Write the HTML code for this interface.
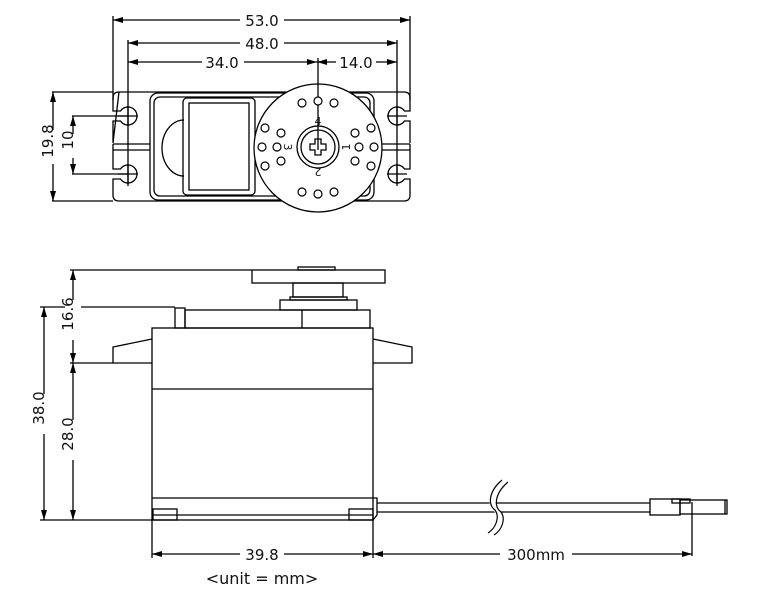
<!DOCTYPE html>
<html><head><style>
html,body{margin:0;padding:0;background:#fff}
svg{display:block}
text{font-family:"DejaVu Sans","Liberation Sans",sans-serif;font-size:15px;fill:#111}
</style></head><body>
<svg width="766" height="600" viewBox="0 0 766 600" xmlns="http://www.w3.org/2000/svg">
<defs>
<marker id="a" viewBox="0 0 10 6" refX="10" refY="3" markerWidth="10" markerHeight="6" orient="auto-start-reverse" markerUnits="userSpaceOnUse"><path d="M0,0 L10,3 L0,6 z" fill="#000"/></marker>
</defs>
<g fill="none" stroke="#000" stroke-width="1.3">
<line x1="113" y1="20" x2="410" y2="20" marker-start="url(#a)" marker-end="url(#a)"/>
<line x1="113" y1="16" x2="113" y2="100"/><line x1="410" y1="16" x2="410" y2="100"/>
<line x1="128" y1="43" x2="397" y2="43" marker-start="url(#a)" marker-end="url(#a)"/>
<line x1="128" y1="40" x2="128" y2="186"/><line x1="397" y1="40" x2="397" y2="186"/>
<line x1="128" y1="62" x2="317" y2="62" marker-start="url(#a)" marker-end="url(#a)"/>
<line x1="317" y1="62" x2="397" y2="62" marker-start="url(#a)" marker-end="url(#a)"/>
<line x1="52" y1="92" x2="113" y2="92"/><line x1="52" y1="201" x2="113" y2="201"/>
<line x1="53" y1="92" x2="53" y2="201" marker-start="url(#a)" marker-end="url(#a)"/>
<line x1="72" y1="116" x2="128" y2="116"/><line x1="72" y1="174" x2="128" y2="174"/>
<line x1="73" y1="116" x2="73" y2="174" marker-start="url(#a)" marker-end="url(#a)"/>
<path d="M119,92 H404 Q410,92 410,98 V111 H404.5 A9,9 0 1 0 404.5,121 H410 V143 M410,150 V169 H404.5 A9,9 0 1 0 404.5,179 H410 V195 Q410,201 404,201 H119 Q113,201 113,195 V179 H120.5 A9,9 0 1 0 120.5,169 H113 V150 M113,143 V121 H120.5 A9,9 0 1 0 120.5,111 H113 V98 Q113,92 119,92 Z"/>
<line x1="113" y1="144" x2="150" y2="144"/><line x1="113" y1="150" x2="150" y2="150"/>
<line x1="373" y1="144" x2="410" y2="144"/><line x1="373" y1="150" x2="410" y2="150"/>
<line x1="113" y1="144" x2="113" y2="150"/><line x1="410" y1="144" x2="410" y2="150"/>
<line x1="128" y1="106" x2="128" y2="126"/><line x1="118" y1="116" x2="138" y2="116"/>
<line x1="128" y1="164" x2="128" y2="184"/><line x1="118" y1="174" x2="138" y2="174"/>
<line x1="397" y1="106" x2="397" y2="126"/><line x1="387" y1="116" x2="407" y2="116"/>
<line x1="397" y1="164" x2="397" y2="184"/><line x1="387" y1="174" x2="407" y2="174"/>
<rect x="150" y="93" width="224" height="107" rx="8"/>
<rect x="154" y="97" width="216" height="99" rx="6"/>
<path d="M184,120 A22,28 0 0 0 184,176"/>
<rect x="183" y="98" width="72" height="97" rx="4"/>
<rect x="189" y="103" width="60" height="87"/>
<circle cx="318" cy="148" r="64" fill="#fff"/>
<circle cx="318" cy="147" r="21"/><circle cx="318" cy="147" r="17"/>
<path d="M315,139 h6 v5 h5 v6 h-5 v5 h-6 v-5 h-5 v-6 h5 z"/>
<line x1="318" y1="58" x2="318" y2="150"/>
</g>
<g fill="#fff" stroke="#000" stroke-width="1.2">
<circle cx="302" cy="103" r="4"/><circle cx="318" cy="101" r="4"/><circle cx="334" cy="103" r="4"/>
<circle cx="302" cy="192" r="4"/><circle cx="318" cy="194" r="4"/><circle cx="334" cy="192" r="4"/>
<circle cx="265" cy="128" r="4"/><circle cx="262" cy="147" r="4"/><circle cx="265" cy="166" r="4"/>
<circle cx="281" cy="133" r="4"/><circle cx="277" cy="147" r="4"/><circle cx="281" cy="161" r="4"/>
<circle cx="371" cy="128" r="4"/><circle cx="374" cy="147" r="4"/><circle cx="371" cy="166" r="4"/>
<circle cx="355" cy="133" r="4"/><circle cx="359" cy="147" r="4"/><circle cx="355" cy="161" r="4"/>
</g>
<g>
<text x="318" y="125" text-anchor="middle" style="font-size:11px">4</text>
<text x="288" y="151" text-anchor="middle" transform="rotate(90 288 147)" style="font-size:11px">3</text>
<text x="346" y="151" text-anchor="middle" transform="rotate(-90 346 147)" style="font-size:11px">1</text>
<text x="318" y="176" text-anchor="middle" transform="rotate(180 318 172)" style="font-size:11px">2</text>
</g>
<g>
<rect x="240" y="12" width="44" height="16" fill="#fff"/><text x="262" y="26" text-anchor="middle">53.0</text>
<rect x="240" y="35" width="44" height="16" fill="#fff"/><text x="262" y="49" text-anchor="middle">48.0</text>
<rect x="202" y="54" width="42" height="16" fill="#fff"/><text x="222" y="68" text-anchor="middle">34.0</text>
<rect x="336" y="54" width="40" height="16" fill="#fff"/><text x="356" y="68" text-anchor="middle">14.0</text>
<rect x="45" y="130" width="16" height="34" fill="#fff"/><text x="59" y="147" text-anchor="middle" transform="rotate(-90 53 147)">19.8</text>
<rect x="65" y="134" width="16" height="24" fill="#fff"/><text x="79" y="146" text-anchor="middle" transform="rotate(-90 73 146)">10</text>
</g>
<g fill="none" stroke="#000" stroke-width="1.3">
<rect x="252" y="270" width="133" height="13"/>
<rect x="298" y="267" width="37" height="3"/>
<rect x="293" y="283" width="50" height="14"/>
<rect x="290" y="297" width="57" height="3"/>
<rect x="280" y="300" width="77" height="10"/>
<rect x="185" y="310" width="185" height="18"/>
<rect x="175" y="308" width="10" height="20"/>
<line x1="302" y1="310" x2="302" y2="328"/>
<rect x="152" y="328" width="221" height="192"/>
<line x1="152" y1="389" x2="373" y2="389"/>
<line x1="152" y1="498" x2="373" y2="498"/>
<line x1="152" y1="515" x2="373" y2="515"/>
<rect x="153" y="509" width="24" height="11"/><rect x="349" y="509" width="24" height="11"/>
<path d="M373,498 h4 v17 l-4,5"/>
<path d="M152,339 L113,347 V363 H152"/>
<path d="M373,339 L412,347 V363 H373"/>
<line x1="40" y1="307" x2="175" y2="307"/>
<line x1="40" y1="520" x2="152" y2="520"/>
<line x1="44" y1="307" x2="44" y2="520" marker-start="url(#a)" marker-end="url(#a)"/>
<line x1="70" y1="270" x2="252" y2="270"/>
<line x1="70" y1="363" x2="113" y2="363"/>
<line x1="73" y1="270" x2="73" y2="363" marker-start="url(#a)" marker-end="url(#a)"/>
<line x1="73" y1="363" x2="73" y2="520" marker-start="url(#a)" marker-end="url(#a)"/>
<line x1="152" y1="520" x2="152" y2="558"/><line x1="373" y1="520" x2="373" y2="558"/>
<line x1="152" y1="554" x2="373" y2="554" marker-start="url(#a)" marker-end="url(#a)"/>
<line x1="373" y1="554" x2="692" y2="554" marker-start="url(#a)" marker-end="url(#a)"/>
<line x1="692" y1="502" x2="692" y2="556"/>
<line x1="377" y1="503" x2="650" y2="503"/><line x1="377" y1="512" x2="650" y2="512"/>
<rect x="650" y="499" width="30" height="16"/>
<rect x="680" y="500" width="47" height="14"/>
<rect x="672" y="499" width="18" height="4"/>
<line x1="725" y1="500" x2="725" y2="514"/>
</g>
<path d="M504,480 C490,492 490,505 497,510 C502,517 498,528 490,533" fill="none" stroke="#fff" stroke-width="6"/>
<path d="M502,480 C488,492 488,505 495,510 C500,517 496,528 488,533 M508,482 C494,494 494,507 501,512 C506,519 502,530 494,535" fill="none" stroke="#000" stroke-width="1.2"/>
<g>
<rect x="36" y="394" width="16" height="40" fill="#fff"/><text x="50" y="414" text-anchor="middle" transform="rotate(-90 44 414)">38.0</text>
<rect x="65" y="300" width="16" height="40" fill="#fff"/><text x="79" y="320" text-anchor="middle" transform="rotate(-90 73 320)">16.6</text>
<rect x="65" y="420" width="16" height="40" fill="#fff"/><text x="79" y="440" text-anchor="middle" transform="rotate(-90 73 440)">28.0</text>
<rect x="240" y="546" width="44" height="14" fill="#fff"/><text x="262" y="560" text-anchor="middle">39.8</text>
<rect x="500" y="546" width="72" height="14" fill="#fff"/><text x="536" y="560" text-anchor="middle">300mm</text>
<text x="262" y="584" text-anchor="middle" style="font-size:16px">&lt;unit = mm&gt;</text>
</g>
</svg>
</body></html>
